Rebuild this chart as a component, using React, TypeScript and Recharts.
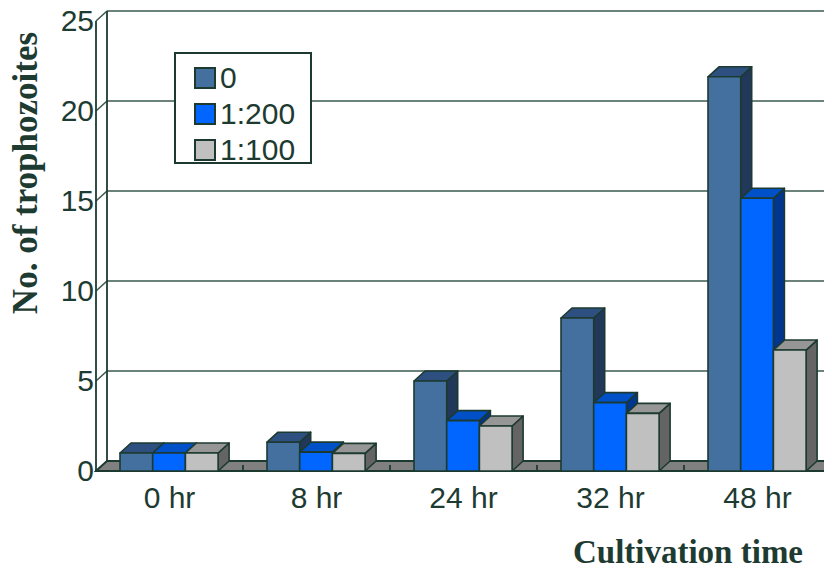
import React from 'react';
import { BarChart, Bar, XAxis, YAxis, CartesianGrid, ReferenceArea, Label } from 'recharts';

// values
const categories = ['0 hr', '8 hr', '24 hr', '32 hr', '48 hr'];
const series0 = [1.0, 1.6, 5.0, 8.5, 21.9];
const series200 = [1.0, 1.05, 2.8, 3.8, 15.15];
const series100 = [1.0, 0.98, 2.5, 3.2, 6.72];
const yTicks = [0, 5, 10, 15, 20, 25];
const seriesNames = ['0', '1:200', '1:100'];

const data = categories.map((name, i) => ({
  name,
  s0: series0[i],
  s200: series200[i],
  s100: series100[i],
}));

// look
const DX = 11; // depth offset of the 3D boxes
const DY = -10;
const INK = '#1c3a30';
const GRID = '#3b5a50';
const TEXT = '#1e3b32';
const SANS = '"Liberation Sans", Arial, sans-serif';
const SERIF = '"Liberation Serif", "Times New Roman", serif';

const palette = [
  { key: 's0', front: '#4470a0', top: '#2e5080', side: '#22385a' },
  { key: 's200', front: '#0066ff', top: '#0050c8', side: '#003590' },
  { key: 's100', front: '#c0c0c0', top: '#969696', side: '#646464' },
];

const Box3D = (props: any) => {
  const { x, y, width: w, height: h, colors } = props;
  if (w == null || h == null) return null;
  const top = `${x},${y} ${x + DX},${y + DY} ${x + w + DX},${y + DY} ${x + w},${y}`;
  const side = `${x + w},${y} ${x + w + DX},${y + DY} ${x + w + DX},${y + h + DY} ${x + w},${y + h}`;
  return (
    <g stroke={INK} strokeWidth={1.6} strokeLinejoin="round">
      <polygon points={side} fill={colors.side} />
      <polygon points={top} fill={colors.top} />
      <rect x={x} y={y} width={w} height={h} fill={colors.front} />
    </g>
  );
};

// horizontal gridlines sit on the back wall, with a little slant at the left
const BackGridLine = (props: any) => {
  const { x1, y1, x2 } = props;
  return (
    <g key={`g-${y1}`} stroke={GRID} strokeWidth={1.6}>
      <line x1={x1} y1={y1} x2={x1 + DX} y2={y1 + DY} />
      <line x1={x1 + DX} y1={y1 + DY} x2={x2 + 2} y2={y1 + DY} />
    </g>
  );
};

// walls and floor drawn over the whole plot rectangle
const Frame = (props: any) => {
  const { x, y, width, height } = props;
  const bottom = y + height;
  const step = width / categories.length;
  const ticks = categories.slice(1).map((_, i) => x + step * (i + 1));
  return (
    <g stroke={INK} strokeWidth={1.8}>
      <line x1={x} y1={y} x2={x} y2={bottom} />
      <line x1={x + DX} y1={y + DY} x2={x + DX} y2={bottom + DY} />
      <polygon
        points={`${x},${bottom} ${x + DX},${bottom + DY} ${x + width + 4},${bottom + DY} ${x + width + 4},${bottom}`}
        fill="#808080"
      />
      {ticks.map((t) => (
        <line key={t} x1={t} y1={bottom} x2={t} y2={bottom - 6} />
      ))}
    </g>
  );
};

const XTick = (props: any) => {
  const { x, y, payload } = props;
  return (
    <text x={x} y={y + 29} textAnchor="middle" fill={TEXT} fontFamily={SANS} fontSize={30}>
      {payload.value}
    </text>
  );
};

const YTick = (props: any) => {
  const { y, payload } = props;
  return (
    <text x={94} y={y + 10} textAnchor="end" fill={TEXT} fontFamily={SANS} fontSize={30}>
      {payload.value}
    </text>
  );
};

const ChartLegend = () => (
  <div
    style={{
      position: 'absolute',
      left: 174,
      top: 52,
      width: 138,
      height: 112,
      background: '#fff',
      border: `2px solid ${INK}`,
      boxSizing: 'border-box',
      paddingTop: 6,
    }}
  >
    {seriesNames.map((n, i) => (
      <div key={n} style={{ display: 'flex', alignItems: 'center', height: 36, paddingLeft: 18 }}>
        <span
          style={{
            width: 18,
            height: 18,
            background: palette[i].front,
            border: `2px solid ${INK}`,
            marginRight: 4,
          }}
        />
        <span style={{ fontFamily: SANS, fontSize: 30, color: TEXT, lineHeight: '36px' }}>{n}</span>
      </div>
    ))}
  </div>
);

export default function App() {
  return (
    <div style={{ position: 'relative', width: 832, height: 573, margin: -8, background: '#fff' }}>
      <BarChart
        width={832}
        height={573}
        data={data}
        margin={{ top: 21, right: 1, bottom: 0, left: 0 }}
        barGap={0}
        barSize={32.7}
      >
        <CartesianGrid vertical={false} horizontal={BackGridLine as any} />
        <ReferenceArea y1={0} y2={25} ifOverflow="visible" shape={<Frame />} />
        <XAxis dataKey="name" height={102} axisLine={false} tickLine={false} tick={<XTick />} interval={0}>
          <Label
            content={(p: any) => (
              <text
                x={688}
                y={p.viewBox.y + 92}
                textAnchor="middle"
                fill={TEXT}
                fontFamily={SERIF}
                fontWeight="bold"
                fontSize={33}
              >
                Cultivation time
              </text>
            )}
          />
        </XAxis>
        <YAxis
          width={96}
          domain={[0, 25]}
          ticks={yTicks}
          axisLine={false}
          tickLine={false}
          tick={<YTick />}
        >
          <Label
            content={() => (
              <text
                x={37}
                y={173}
                transform="rotate(-90 37 173)"
                textAnchor="middle"
                fill={TEXT}
                fontFamily={SERIF}
                fontWeight="bold"
                fontSize={35}
              >
                No. of  trophozoites
              </text>
            )}
          />
        </YAxis>
        {palette.map((p, i) => (
          <Bar
            key={p.key}
            dataKey={p.key}
            name={seriesNames[i]}
            isAnimationActive={false}
            shape={(bp: any) => <Box3D {...bp} colors={p} />}
          />
        ))}
      </BarChart>
      <ChartLegend />
    </div>
  );
}
